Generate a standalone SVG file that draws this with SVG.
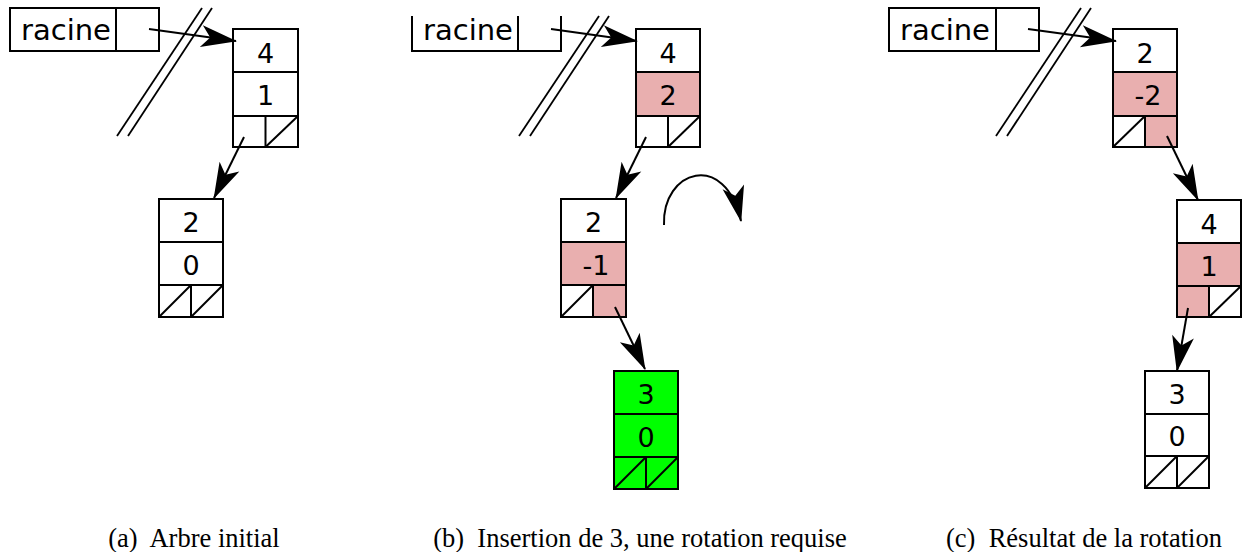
<svg xmlns="http://www.w3.org/2000/svg" width="1243" height="552" viewBox="0 0 1243 552">
<style>
.bx{fill:#fff;stroke:#000;stroke-width:2}
.pk{fill:#e9afaf;stroke:none}
.gr{fill:#00ff00;stroke:none}
.ln{stroke:#000;stroke-width:2;fill:none}
.sl{stroke:#000;stroke-width:1.8;fill:none}
.t{font-family:"DejaVu Sans",sans-serif;font-size:27px;text-anchor:middle;fill:#000}
.r{font-family:"DejaVu Sans",sans-serif;font-size:29px;fill:#000}
.cap{font-family:"Liberation Serif","Times New Roman",serif;font-size:26.5px;text-anchor:middle;fill:#000}
.ar{stroke:#000;stroke-width:2;fill:none;marker-end:url(#ah)}
</style>
<defs>
<marker id="ah" markerUnits="userSpaceOnUse" markerWidth="45" markerHeight="30" viewBox="-40 -15 45 30" refX="0" refY="0" orient="auto">
<path d="M1,0 L-35,-11 L-26,0 L-35,11 Z" fill="#000"/>
</marker>
</defs>

<!-- Panel (a) -->
<g id="a-racine">
<rect class="bx" x="10" y="8" width="149" height="43"/>
<line class="ln" x1="116" y1="8" x2="116" y2="51"/>
<text class="r" x="21" y="40">racine</text>
</g>
<g id="a-break">
<line class="sl" x1="117" y1="136" x2="202" y2="8"/>
<line class="sl" x1="128" y1="136" x2="212" y2="8"/>
</g>
<g id="a-n4">
<rect class="bx" x="233" y="29" width="65" height="118"/>
<line class="ln" x1="233" y1="72" x2="298" y2="72"/>
<line class="ln" x1="233" y1="116" x2="298" y2="116"/>
<line class="ln" x1="265.5" y1="116" x2="265.5" y2="147"/>
<line class="ln" x1="265.5" y1="147" x2="298" y2="116"/>
<text class="t" x="265.5" y="63">4</text>
<text class="t" x="265.5" y="105">1</text>
</g>
<g id="a-n2">
<rect class="bx" x="159" y="199" width="64" height="118"/>
<line class="ln" x1="159" y1="242" x2="223" y2="242"/>
<line class="ln" x1="159" y1="285" x2="223" y2="285"/>
<line class="ln" x1="191" y1="285" x2="191" y2="317"/>
<line class="ln" x1="159" y1="317" x2="191" y2="285"/>
<line class="ln" x1="191" y1="317" x2="223" y2="285"/>
<text class="t" x="191" y="232">2</text>
<text class="t" x="191" y="275">0</text>
</g>

<!-- Panel (b) -->
<g id="b-racine">
<path class="ln" d="M412,16 V51 H561 V16"/>
<line class="ln" x1="518" y1="16" x2="518" y2="51"/>
<text class="r" x="423" y="40">racine</text>
</g>
<g id="b-break">
<line class="sl" x1="519" y1="136" x2="599" y2="16"/>
<line class="sl" x1="530" y1="136" x2="609" y2="16"/>
</g>
<g id="b-n4">
<rect class="bx" x="636" y="29" width="64" height="118"/>
<rect class="pk" x="636" y="72" width="64" height="44"/>
<line class="ln" x1="636" y1="72" x2="700" y2="72"/>
<line class="ln" x1="636" y1="116" x2="700" y2="116"/>
<line class="ln" x1="668" y1="116" x2="668" y2="147"/>
<line class="ln" x1="668" y1="147" x2="700" y2="116"/>
<rect class="ln" x="636" y="29" width="64" height="118"/>
<text class="t" x="668" y="63">4</text>
<text class="t" x="668" y="105">2</text>
</g>
<g id="b-n2">
<rect class="bx" x="561" y="199" width="65" height="118"/>
<rect class="pk" x="561" y="242" width="65" height="43"/>
<rect class="pk" x="593" y="285" width="33" height="32"/>
<line class="ln" x1="561" y1="242" x2="626" y2="242"/>
<line class="ln" x1="561" y1="285" x2="626" y2="285"/>
<line class="ln" x1="593" y1="285" x2="593" y2="317"/>
<line class="ln" x1="561" y1="317" x2="593" y2="285"/>
<rect class="ln" x="561" y="199" width="65" height="118"/>
<text class="t" x="593.5" y="232">2</text>
<text class="t" x="596" y="275">-1</text>
</g>
<g id="b-n3">
<rect class="bx" x="614" y="371" width="64" height="118" style="fill:#00ff00"/>
<line class="ln" x1="614" y1="414" x2="678" y2="414"/>
<line class="ln" x1="614" y1="457" x2="678" y2="457"/>
<line class="ln" x1="646" y1="457" x2="646" y2="489"/>
<line class="ln" x1="614" y1="489" x2="646" y2="457"/>
<line class="ln" x1="646" y1="489" x2="678" y2="457"/>
<text class="t" x="646" y="404">3</text>
<text class="t" x="646" y="447">0</text>
</g>

<!-- Panel (c) -->
<g id="c-racine">
<rect class="bx" x="889" y="8" width="150" height="43"/>
<line class="ln" x1="996" y1="8" x2="996" y2="51"/>
<text class="r" x="900" y="40">racine</text>
</g>
<g id="c-break">
<line class="sl" x1="996" y1="136" x2="1081" y2="8"/>
<line class="sl" x1="1007" y1="136" x2="1091" y2="8"/>
</g>
<g id="c-n2">
<rect class="bx" x="1113" y="29" width="64" height="118"/>
<rect class="pk" x="1113" y="72" width="64" height="44"/>
<rect class="pk" x="1145" y="116" width="32" height="31"/>
<line class="ln" x1="1113" y1="72" x2="1177" y2="72"/>
<line class="ln" x1="1113" y1="116" x2="1177" y2="116"/>
<line class="ln" x1="1145" y1="116" x2="1145" y2="147"/>
<line class="ln" x1="1113" y1="147" x2="1145" y2="116"/>
<rect class="ln" x="1113" y="29" width="64" height="118"/>
<text class="t" x="1145" y="63">2</text>
<text class="t" x="1148" y="105">-2</text>
</g>
<g id="c-n4">
<rect class="bx" x="1177" y="200" width="64" height="117"/>
<rect class="pk" x="1177" y="243" width="64" height="43"/>
<rect class="pk" x="1177" y="286" width="32" height="31"/>
<line class="ln" x1="1177" y1="243" x2="1241" y2="243"/>
<line class="ln" x1="1177" y1="286" x2="1241" y2="286"/>
<line class="ln" x1="1209" y1="286" x2="1209" y2="317"/>
<line class="ln" x1="1209" y1="317" x2="1241" y2="286"/>
<rect class="ln" x="1177" y="200" width="64" height="117"/>
<text class="t" x="1209" y="234">4</text>
<text class="t" x="1209" y="276">1</text>
</g>
<g id="c-n3">
<rect class="bx" x="1145" y="371" width="64" height="117"/>
<line class="ln" x1="1145" y1="414" x2="1209" y2="414"/>
<line class="ln" x1="1145" y1="456" x2="1209" y2="456"/>
<line class="ln" x1="1177" y1="456" x2="1177" y2="488"/>
<line class="ln" x1="1145" y1="488" x2="1177" y2="456"/>
<line class="ln" x1="1177" y1="488" x2="1209" y2="456"/>
<text class="t" x="1177" y="404">3</text>
<text class="t" x="1177" y="446">0</text>
</g>

<!-- Connectors -->
<g id="connectors">
<line class="ar" x1="149" y1="29" x2="236" y2="41"/>
<line class="ar" x1="244" y1="137" x2="214" y2="198"/>
<line class="ar" x1="551" y1="29" x2="637" y2="41"/>
<line class="ar" x1="646" y1="137" x2="616" y2="198"/>
<line class="ar" x1="615" y1="307" x2="645" y2="369"/>
<path class="ar" d="M664,225 C662,170 725,150 741,221"/>
<line class="ar" x1="1028" y1="29" x2="1116" y2="41"/>
<line class="ar" x1="1167" y1="136" x2="1198" y2="200"/>
<line class="ar" x1="1188" y1="308" x2="1177" y2="371"/>
</g>

<!-- Captions -->
<g id="captions">
<text class="cap" x="194" y="547">(a)&#160; Arbre initial</text>
<text class="cap" x="640" y="547">(b)&#160; Insertion de 3, une rotation requise</text>
<text class="cap" x="1084" y="547">(c)&#160; Résultat de la rotation</text>
</g>
</svg>
